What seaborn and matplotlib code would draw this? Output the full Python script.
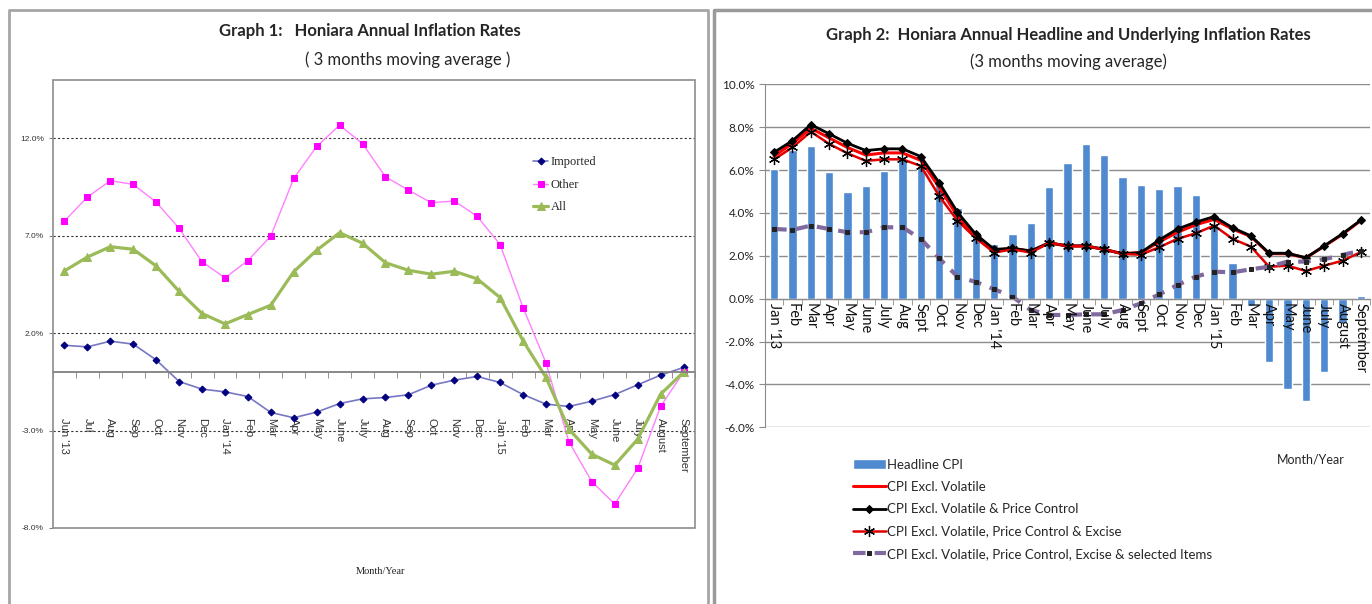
"""Honiara annual inflation rates: two Excel-style panels side by side."""

import matplotlib
matplotlib.use("Agg")
import matplotlib.pyplot as plt
from matplotlib.lines import Line2D
from matplotlib.patches import Rectangle
from matplotlib.ticker import FuncFormatter, FixedLocator
import numpy as np
import seaborn as sns

# ---- Graph 1 data (Jun '13 .. Sep '15) ----
g1_months = ["Jun '13", "Jul", "Aug", "Sep", "Oct", "Nov", "Dec", "Jan '14", "Feb",
             "Mar", "Apr", "May", "June", "July", "Aug", "Sep", "Oct", "Nov", "Dec",
             "Jan '15", "Feb", "Mar", "Apr", "May", "June", "July", "August",
             "September"]
imported = [1.38, 1.30, 1.59, 1.44, 0.63, -0.48, -0.87, -1.01, -1.25, -2.07, -2.34,
            -2.05, -1.61, -1.37, -1.30, -1.16, -0.67, -0.41, -0.22, -0.53, -1.15,
            -1.64, -1.76, -1.49, -1.15, -0.65, -0.15, 0.24]
other = [7.76, 8.99, 9.83, 9.64, 8.73, 7.38, 5.67, 4.84, 5.73, 6.99, 9.95, 11.59,
         12.68, 11.73, 10.03, 9.35, 8.70, 8.79, 8.00, 6.55, 3.32, 0.48, -3.57,
         -5.62, -6.77, -4.94, -1.76, 0.0]
all_items = [5.20, 5.91, 6.44, 6.31, 5.45, 4.15, 3.01, 2.48, 2.96, 3.44, 5.16, 6.26,
             7.16, 6.62, 5.62, 5.23, 5.03, 5.18, 4.79, 3.83, 1.61, -0.27, -2.92,
             -4.21, -4.77, -3.44, -1.13, 0.0]

# ---- Graph 2 data (Jan '13 .. Sep '15) ----
g2_months = ["Jan '13", "Feb", "Mar", "Apr", "May", "June", "July", "Aug", "Sept",
             "Oct", "Nov", "Dec", "Jan '14", "Feb", "Mar", "Apr", "May", "June",
             "July", "Aug", "Sept", "Oct", "Nov", "Dec", "Jan '15", "Feb", "Mar",
             "Apr", "May", "June", "July", "August", "September"]
headline = [6.04, 6.94, 7.12, 5.90, 4.99, 5.27, 5.96, 6.50, 6.15, 5.40, 4.22, 3.00,
            2.54, 3.00, 3.52, 5.21, 6.32, 7.22, 6.69, 5.69, 5.31, 5.10, 5.26, 4.84,
            3.50, 1.67, -0.34, -2.94, -4.21, -4.77, -3.41, -1.15, 0.12]
excl_volatile = [6.65, 7.25, 7.95, 7.50, 7.05, 6.70, 6.80, 6.80, 6.45, 5.20, 3.85,
                 2.90, 2.25, 2.35, 2.20, 2.60, 2.45, 2.45, 2.30, 2.10, 2.15, 2.65,
                 3.10, 3.45, 3.70, 3.25, 2.90, 2.10, 2.10, 1.90, 2.45, 3.00, 3.65]
excl_price_ctrl = [6.83, 7.37, 8.12, 7.69, 7.25, 6.91, 6.99, 6.99, 6.63, 5.41, 4.03,
                   3.00, 2.30, 2.35, 2.23, 2.61, 2.46, 2.47, 2.30, 2.09, 2.15, 2.74,
                   3.25, 3.57, 3.83, 3.31, 2.93, 2.12, 2.12, 1.91, 2.46, 3.03, 3.66]
excl_excise = [6.50, 7.06, 7.79, 7.22, 6.78, 6.43, 6.50, 6.50, 6.19, 4.79, 3.64,
               2.82, 2.15, 2.30, 2.15, 2.61, 2.46, 2.46, 2.30, 2.09, 2.05, 2.40,
               2.79, 3.05, 3.41, 2.79, 2.43, 1.49, 1.54, 1.29, 1.54, 1.77, 2.17]
excl_selected = [3.25, 3.21, 3.41, 3.25, 3.10, 3.10, 3.33, 3.33, 2.79, 1.88, 1.03,
                 0.78, 0.44, 0.09, -0.53, -0.76, -0.76, -0.73, -0.73, -0.53, -0.22,
                 0.20, 0.64, 1.03, 1.26, 1.23, 1.37, 1.49, 1.73, 1.73, 1.84, 2.04,
                 2.24]

W, H = 1372, 604
sns.set_style("white")
plt.rcParams["font.family"] = ["Lato", "DejaVu Sans"]


def fx(px):
    return px / W


def fy(py):
    return 1 - py / H


pct = FuncFormatter(lambda v, _: f"{v:.1f}%")
fig = plt.figure(figsize=(W / 100, H / 100), dpi=100)

# panel frames
fig.add_artist(Line2D([fx(9), fx(9), fx(708), fx(708)], [fy(604), fy(10), fy(10), fy(604)],
                      transform=fig.transFigure, color="#a6a6a6", lw=2))
fig.add_artist(Line2D([fx(713.5), fx(713.5), fx(1372)], [fy(604), fy(10), fy(10)],
                      transform=fig.transFigure, color="#9a9a9a", lw=2.5))

# ================= Graph 1 =================
ax1 = fig.add_axes([fx(53), fy(528), fx(695 - 53), (528 - 80) / H])
x1 = np.arange(len(g1_months))
sns.lineplot(x=x1, y=imported, ax=ax1, color="#7777c4", lw=1.2, marker="D",
             markersize=3.5, markerfacecolor="#000080", markeredgecolor="#000080",
             label="Imported")
sns.lineplot(x=x1, y=other, ax=ax1, color="#ff80ff", lw=1.0, marker="s",
             markersize=5, markerfacecolor="#ff00ff", markeredgecolor="#ff00ff",
             label="Other")
sns.lineplot(x=x1, y=all_items, ax=ax1, color="#9bbb59", lw=2.3, marker="^",
             markersize=6, markerfacecolor="#9bbb59", markeredgecolor="#9bbb59",
             label="All")
ax1.set_xlim(-0.5, len(g1_months) - 0.5)
ax1.set_ylim(-8, 15)
ax1.yaxis.set_major_locator(FixedLocator([-8, -3, 2, 7, 12]))
ax1.yaxis.set_major_formatter(pct)
ax1.yaxis.grid(True, linestyle=(0, (2, 2)), color="#333333", lw=0.8)
ax1.set_axisbelow(True)
for s in ["top", "right", "left"]:
    ax1.spines[s].set_visible(False)
ax1.spines["bottom"].set_position(("data", 0))
ax1.spines["bottom"].set_color("#808080")
ax1.spines["bottom"].set_linewidth(1.3)
ax1.add_patch(Rectangle((0, 0), 1, 1, transform=ax1.transAxes, fill=False,
                        edgecolor="#8c8c8c", lw=1.2, zorder=5, clip_on=False))
ax1.set_xticks(x1)
ax1.set_xticklabels(g1_months, rotation=270, fontsize=8,
                    family=["Liberation Sans", "DejaVu Sans"], color="#333333")
ax1.set_xticks(np.arange(-0.5, len(g1_months)), minor=True)
ax1.tick_params(axis="x", which="major", length=0, pad=33)
ax1.tick_params(axis="x", which="minor", length=4, direction="out", color="#808080",
                bottom=True)
ax1.tick_params(axis="y", length=3, direction="out", color="#808080", left=True,
                labelsize=6, labelcolor="#333333")
for t in ax1.get_yticklabels():
    t.set_family(["Liberation Sans", "DejaVu Sans"])
ax1.set_xlabel("")
ax1.set_ylabel("")
ax1.legend(loc="upper left", bbox_to_anchor=((527 - 53) / 642, (528 - 150) / 448),
           frameon=False, prop={"family": "Liberation Serif", "size": 9},
           handlelength=1.2, handletextpad=0.2, labelspacing=0.85, borderpad=0)

fig.text(fx(370), fy(31), "Graph 1:   Honiara Annual Inflation Rates", ha="center",
         va="center", fontsize=12, fontweight="bold")
fig.text(fx(408), fy(60), "( 3 months moving average )", ha="center", va="center",
         fontsize=12)
fig.text(fx(381), fy(571), "Month/Year", ha="center", va="center", fontsize=7.5,
         family="Liberation Serif", color="#222222")

# ================= Graph 2 =================
ax2 = fig.add_axes([fx(765), fy(427.3), fx(1370 - 765), (427.3 - 84.3) / H])
x2 = np.arange(len(g2_months))
sns.barplot(x=x2, y=headline, ax=ax2, color="#4f8ad0", saturation=1, width=0.45,
            label="Headline CPI")
sns.lineplot(x=x2, y=excl_volatile, ax=ax2, color="#ff0000", lw=2.2,
             label="CPI Excl. Volatile")
sns.lineplot(x=x2, y=excl_price_ctrl, ax=ax2, color="#000000", lw=2.0, marker="D",
             markersize=4.5, markerfacecolor="#000000", markeredgecolor="#000000",
             label="CPI Excl. Volatile & Price Control")
sns.lineplot(x=x2, y=excl_excise, ax=ax2, color="#e00000", lw=1.8, marker=(6, 2, 0),
             markersize=8, markeredgecolor="#000000", markeredgewidth=0.9,
             label="CPI Excl. Volatile, Price Control & Excise")
sns.lineplot(x=x2, y=excl_selected, ax=ax2, color="#7f6a9f", lw=3.0,
             dashes=False, linestyle=(0, (3, 2.2)), marker="s", markersize=2.2,
             markerfacecolor="#222222", markeredgecolor="#222222",
             label="CPI Excl. Volatile, Price Control, Excise & selected Items")
ax2.set_xlim(-0.5, len(g2_months) - 0.5)
ax2.set_ylim(-6, 10)
ax2.yaxis.set_major_locator(FixedLocator(np.arange(-6, 10.1, 2)))
ax2.yaxis.set_major_formatter(pct)
ax2.yaxis.grid(True, color="#8c8c8c", lw=1)
ax2.set_axisbelow(True)
# month labels sit on top of the negative bars, as in Excel
ax2.xaxis.set_zorder(2.5)
for s in ["top", "right"]:
    ax2.spines[s].set_visible(False)
ax2.spines["left"].set_color("#8c8c8c")
ax2.spines["bottom"].set_position(("data", 0))
ax2.spines["bottom"].set_color("#8c8c8c")
ax2.set_xticks(x2)
ax2.set_xticklabels(g2_months, rotation=270, fontsize=10.5, color="#111111")
ax2.set_xticks(np.arange(-0.5, len(g2_months)), minor=True)
ax2.tick_params(axis="x", which="major", length=0, pad=3)
ax2.tick_params(axis="x", which="minor", length=4, direction="out", color="#8c8c8c",
                bottom=True)
ax2.tick_params(axis="y", length=4, direction="out", color="#8c8c8c", left=True,
                labelsize=8.5, labelcolor="#222222")
ax2.set_xlabel("")
ax2.set_ylabel("")
h, l = ax2.get_legend_handles_labels()
order = [l.index("Headline CPI")] + [i for i in range(len(l)) if l[i] != "Headline CPI"]
ax2.legend([h[i] for i in order], [l[i] for i in order], loc="upper left",
           bbox_to_anchor=((846 - 765) / 605, (427.3 - 452) / 343), frameon=False,
           fontsize=9.5, handlelength=2.5, handletextpad=0.1, labelspacing=0.78,
           borderpad=0)

fig.text(fx(1068), fy(35), "Graph 2:  Honiara Annual Headline and Underlying Inflation Rates",
         ha="center", va="center", fontsize=12, fontweight="bold")
fig.text(fx(1068), fy(62), "(3 months moving average)", ha="center", va="center",
         fontsize=12)
fig.text(fx(1311), fy(459), "Month/Year", ha="center", va="center", fontsize=9)

fig.savefig("out.png", dpi=100)
plt.close(fig)
